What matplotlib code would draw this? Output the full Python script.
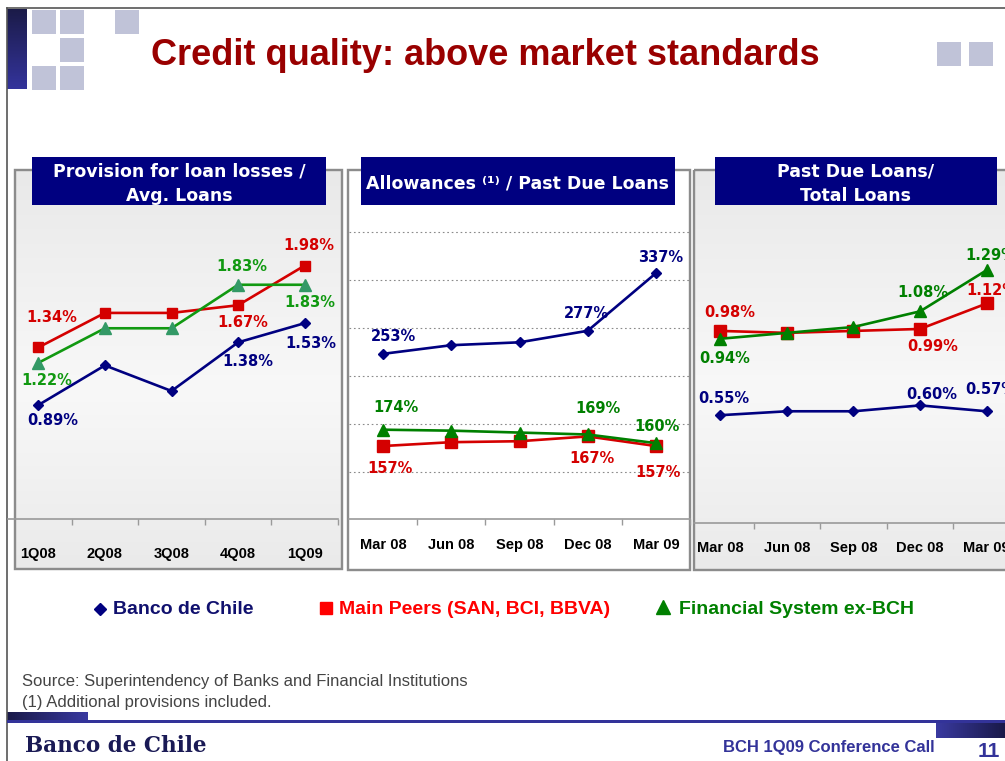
import numpy as np
import matplotlib
matplotlib.use("Agg")
import matplotlib.pyplot as plt
from matplotlib.patches import Rectangle
from matplotlib.colors import to_rgb

# ---------------- data ----------------
quarters = ["1Q08", "2Q08", "3Q08", "4Q08", "1Q09"]
months = ["Mar 08", "Jun 08", "Sep 08", "Dec 08", "Mar 09"]
series_names = ["Banco de Chile", "Main Peers (SAN, BCI, BBVA)", "Financial System ex-BCH"]
panel_titles = ["Provision for loan losses /\nAvg. Loans",
                "Allowances \u207d\u00b9\u207e / Past Due Loans",
                "Past Due Loans/\nTotal Loans"]

prov_bch = [0.89, 1.20, 1.00, 1.38, 1.53]
prov_peers = [1.34, 1.61, 1.61, 1.67, 1.98]
prov_fs = [1.22, 1.49, 1.49, 1.83, 1.83]

allow_bch = [253, 262, 265, 277, 337]
allow_peers = [157, 161, 162, 167, 157]
allow_fs = [174, 173, 171, 169, 160]

pdl_bch = [0.55, 0.57, 0.57, 0.60, 0.57]
pdl_peers = [0.98, 0.97, 0.98, 0.99, 1.12]
pdl_fs = [0.94, 0.97, 1.00, 1.08, 1.29]

title = "Credit quality: above market standards"
source_note = "Source: Superintendency of Banks and Financial Institutions"
foot_note = "(1) Additional provisions included."
footer_right = "BCH 1Q09 Conference Call"
page_no = "11"
logo_text = "Banco de Chile"

# ---------------- layout helpers ----------------
W, H = 1005, 761
fig = plt.figure(figsize=(W / 100, H / 100), dpi=100)
PX = 0.72  # points per pixel


def box(x0, y0, x1, y1):
    return [x0 / W, 1 - y1 / H, (x1 - x0) / W, (y1 - y0) / H]


bg = fig.add_axes([0, 0, 1, 1], zorder=-10)
bg.set_xlim(0, W)
bg.set_ylim(H, 0)
bg.axis("off")


def vgrad(x0, x1, y0, y1, stops):
    n = 200
    t = np.linspace(0, 1, n)
    pos = [s[0] for s in stops]
    cols = np.array([to_rgb(s[1]) for s in stops])
    arr = np.stack([np.interp(t, pos, cols[:, k]) for k in range(3)], axis=-1)
    bg.imshow(arr[:, None, :], extent=[x0, x1, y1, y0], aspect="auto",
              interpolation="bilinear", zorder=1)


def hgrad(x0, x1, y0, y1, stops):
    n = 200
    t = np.linspace(0, 1, n)
    pos = [s[0] for s in stops]
    cols = np.array([to_rgb(s[1]) for s in stops])
    arr = np.stack([np.interp(t, pos, cols[:, k]) for k in range(3)], axis=-1)
    bg.imshow(arr[None, :, :], extent=[x0, x1, y1, y0], aspect="auto",
              interpolation="bilinear", zorder=1)


# ---------------- slide decorations ----------------
bg.plot([7, W], [8, 8], color="#555555", lw=1.2, zorder=3)
bg.plot([7, 7], [8, H], color="#555555", lw=1.2, zorder=3)
vgrad(7, 27, 9, 89, [(0, "#1b1b48"), (1, "#34349c")])
sq = "#c0c3d8"
for (x, y) in [(32, 10), (60, 10), (115, 10), (60, 38), (32, 66), (60, 66),
               (937, 42), (969, 42)]:
    bg.add_patch(Rectangle((x, y), 24, 24, facecolor=sq, edgecolor="none", zorder=2))

bg.text(485, 65, title, ha="center", va="baseline", color="#990000",
        fontsize=26, fontweight="bold", family="Liberation Sans", zorder=5)

# bottom bar
bg.add_patch(Rectangle((7, 720), W - 7, 2.5, facecolor="#333399", edgecolor="none", zorder=3))
hgrad(7, 88, 712, 720, [(0, "#191948"), (1, "#3a3aa0")])
hgrad(936, W, 722, 738, [(0, "#3a3aa0"), (1, "#191948")])

bg.text(22, 686, source_note, ha="left", va="baseline", color="#444444",
        fontsize=12, family="Liberation Sans", zorder=5)
bg.text(22, 707, foot_note, ha="left", va="baseline", color="#444444",
        fontsize=12, family="Liberation Sans", zorder=5)
bg.text(25, 752, logo_text, ha="left", va="baseline", color="#1a1a55",
        fontsize=15.5, fontweight="bold", family="DejaVu Serif", zorder=5)
bg.text(935, 752, footer_right, ha="right", va="baseline", color="#333399",
        fontsize=12, fontweight="bold", family="Liberation Sans", zorder=5)
bg.text(1000, 757, page_no, ha="right", va="baseline", color="#333399",
        fontsize=15, fontweight="bold", family="Liberation Sans", zorder=5)

# ---------------- panel frames ----------------
grad_stops = [(0, "#e9e9e9"), (0.55, "#f8f8f8"), (1, "#eaeaea")]
frames = [(15, 170, 342, 569, True), (348, 170, 690, 570, False), (694, 170, 1100, 570, True)]
for (x0, y0, x1, y1, g) in frames:
    if g:
        vgrad(x0, min(x1, W), y0, y1, grad_stops)
    else:
        bg.add_patch(Rectangle((x0, y0), x1 - x0, y1 - y0, facecolor="white",
                               edgecolor="none", zorder=1))
    bg.add_patch(Rectangle((x0, y0), x1 - x0, y1 - y0, facecolor="none",
                           edgecolor="#8c8c8c", lw=2.4 * PX, zorder=2))

headers = [(32, 326), (361, 675), (715, 997)]
for (x0, x1), t in zip(headers, panel_titles):
    bg.add_patch(Rectangle((x0, 157), x1 - x0, 48, facecolor="#000080",
                           edgecolor="none", zorder=4))
hdr_kw = dict(color="white", fontsize=12.5, fontweight="bold", family="DejaVu Sans",
              ha="center", va="baseline", zorder=6)
l1, l2 = panel_titles[0].split("\n")
bg.text(179, 177, l1, **hdr_kw)
bg.text(179, 201, l2, **hdr_kw)
bg.text(518, 189, panel_titles[1], **hdr_kw)
l1, l2 = panel_titles[2].split("\n")
bg.text(856, 177, l1, **hdr_kw)
bg.text(856, 201, l2, **hdr_kw)

# ---------------- legend ----------------
NAVY, RED, GREEN = "#000080", "#d40000", "#008000"
bg.plot([100], [609], marker="D", color=NAVY, ms=6, ls="none", zorder=5)
bg.plot([326], [608], marker="s", color="#ff0000", ms=8, ls="none", zorder=5)
bg.plot([663], [607], marker="^", color=GREEN, ms=10, ls="none", zorder=5)
leg_kw = dict(fontsize=14, fontweight="bold", family="Liberation Sans",
              ha="left", va="baseline", zorder=5)
bg.text(113, 614, series_names[0], color="#10106e", **leg_kw)
bg.text(339, 614, series_names[1], color="#ff0000", **leg_kw)
bg.text(679, 614, series_names[2], color=GREEN, **leg_kw)

# ---------------- chart axes ----------------
lab_kw = dict(fontsize=10.5, fontweight="bold", family="DejaVu Sans",
              ha="center", va="center", textcoords="offset pixels", zorder=10,
              annotation_clip=False)


def setup(ax, cats, ylim, pad):
    ax.set_facecolor("none")
    ax.set_xlim(-0.5, 4.5)
    ax.set_ylim(*ylim)
    for s in ["top", "left", "right"]:
        ax.spines[s].set_visible(False)
    ax.spines["bottom"].set_color("#9a9a9a")
    ax.spines["bottom"].set_linewidth(1.2)
    ax.set_xticks(range(len(cats)))
    ax.set_xticklabels(cats, fontsize=10.5, fontweight="bold", family="Liberation Sans")
    ax.tick_params(axis="x", which="major", length=0, pad=pad)
    ax.set_xticks(np.arange(len(cats)) + 0.5, minor=True)
    ax.tick_params(axis="x", which="minor", length=4, color="#9a9a9a", width=1)
    ax.tick_params(axis="y", left=False, labelleft=False)


def draw(ax, x, ys, colors, markers, sizes, fmt, offsets, lw=1.9):
    for y, c, m, s, offs, z in zip(ys, colors, markers, sizes, offsets, [4, 5, 6]):
        mc, lc = c if isinstance(c, tuple) else (c, c)
        ax.plot(x, y, color=lc, lw=lw, marker=m, ms=s, mfc=mc, mec=mc, zorder=z,
                clip_on=False)
        for i, (dx, dy) in offs.items():
            ax.annotate(fmt(y[i]), (x[i], y[i]), xytext=(dx, dy), color=lc, **lab_kw)


# Panel 1
ax1 = fig.add_axes(box(5, 205, 338, 519))
setup(ax1, quarters, (0, 314 / 128), 20)
ax1.spines["bottom"].set_bounds(-0.45, 4.5)
x = np.arange(len(quarters))
draw(ax1, x, [prov_peers, prov_fs, prov_bch],
     [RED, ("#339966", "#119911"), NAVY], ["s", "^", "D"], [7.5, 8.5, 5.5],
     lambda v: f"{v:.2f}%",
     [{0: (13, 30), 3: (5, -17), 4: (4, 20)},
      {0: (8, -18), 3: (4, 18), 4: (5, -18)},
      {0: (14, -15), 3: (10, -19), 4: (6, -20)}])

# Panel 2
ax2 = fig.add_axes(box(349, 205, 690, 519))
setup(ax2, months, (81, 408), 14)
ax2.set_yticks([130, 180, 230, 280, 330, 380])
ax2.grid(axis="y", linestyle=(0, (1.5, 2.5)), color="#8a8a8a", lw=0.8)
ax2.set_axisbelow(True)
draw(ax2, x, [allow_peers, allow_fs, allow_bch],
     [RED, GREEN, NAVY], ["s", "^", "D"], [9, 8.5, 5.5],
     lambda v: f"{v:.0f}%",
     [{0: (7, -22), 3: (4, -22), 4: (2, -26)},
      {0: (13, 22), 3: (10, 26), 4: (1, 17)},
      {0: (10, 17), 3: (-1, 17), 4: (5, 16)}])

# Panel 3
ax3 = fig.add_axes(box(687, 205, 1020, 523))
setup(ax3, months, (0, 318 / 196), 13)
ax3.spines["bottom"].set_bounds(-0.39, 4.5)
draw(ax3, x, [pdl_peers, pdl_fs, pdl_bch],
     [RED, GREEN, NAVY], ["s", "^", "D"], [8, 8.5, 5.5],
     lambda v: f"{v:.2f}%",
     [{0: (9, 18), 3: (13, -18), 4: (5, 13)},
      {0: (4, -20), 3: (3, 19), 4: (4, 15)},
      {0: (4, 17), 3: (12, 11), 4: (4, 22)}])

fig.savefig("out.png", dpi=100)
